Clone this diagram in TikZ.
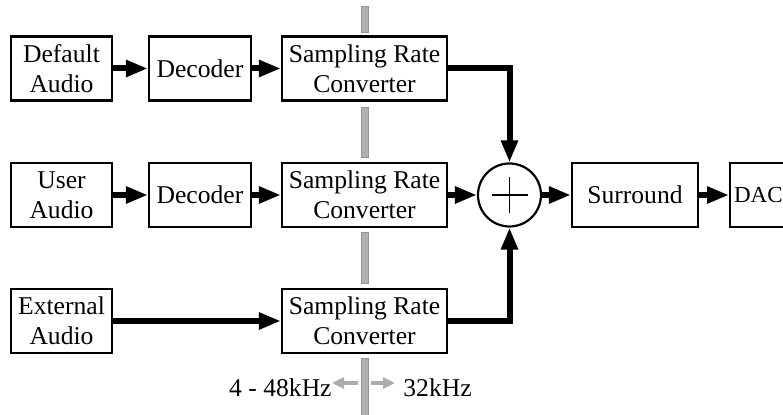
\documentclass[tikz,border=0pt]{standalone}
\usepackage{fontspec}
\setmainfont{Liberation Serif}
\usetikzlibrary{arrows.meta}
\begin{document}
\begin{tikzpicture}[x=0.5pt,y=-0.5pt,
  txt/.style={font=\fontsize{12.8}{15}\selectfont},
  block/.style={txt, draw, line width=1.1pt, minimum height=32pt, inner sep=0pt, align=center},
  srcbox/.style={block, minimum width=50.5pt},
  decbox/.style={block, minimum width=51pt},
  srcconv/.style={block, minimum width=82.5pt},
  flow/.style={line width=3pt, -{Triangle[length=11pt,width=8pt]}},
  band/.style={fill=gray!62, draw=gray!85, line width=0.4pt},
  rateflow/.style={gray!65, line width=1.8pt, -{Triangle[length=6pt,width=5.5pt]}}
]
\useasboundingbox (0,0) rectangle (783,415);

% clock-domain boundary (drawn first, behind the blocks)
\path[band] (361,6) rectangle (368,32);
\path[band] (361,107) rectangle (368,157);
\path[band] (361,232) rectangle (368,283);
\path[band] (361,358) rectangle (368,415);

% row 1
\node[srcbox]  (def)  at (61.5,68.5) {Default\\Audio};
\node[decbox]  (dec1) at (200,68.5)  {Decoder};
\node[srcconv] (src1) at (364.5,68.5) {Sampling Rate\\Converter};

% row 2
\node[srcbox]  (usr)  at (61.5,195) {User\\Audio};
\node[decbox]  (dec2) at (200,195)  {Decoder};
\node[srcconv] (src2) at (364.5,195) {Sampling Rate\\Converter};

% row 3
\node[srcbox]  (ext)  at (61.5,321) {External\\Audio};
\node[srcconv] (src3) at (364.5,321) {Sampling Rate\\Converter};

% mixer, surround and DAC
\node[draw, circle, line width=1.1pt, minimum size=31.5pt, inner sep=0pt] (sum) at (509.5,195) {};
\draw[line width=0.8pt] ([xshift=-9pt]sum.center) -- ([xshift=9pt]sum.center);
\draw[line width=0.8pt] ([yshift=-9pt]sum.center) -- ([yshift=9pt]sum.center);
\node[block, minimum width=63pt] (sur) at (635,195) {Surround};
\node[block, minimum width=60pt, text width=56pt, inner xsep=2pt, align=left, anchor=west,
      font=\fontsize{11.5}{14}\selectfont] (dac) at (729,195) {\raisebox{-2.5pt}{DAC}};

% signal flow
\draw[flow] (def) -- (dec1);
\draw[flow] (dec1) -- (src1);
\draw[flow] (usr) -- (dec2);
\draw[flow] (dec2) -- (src2);
\draw[flow] (ext) -- (src3);
\draw[flow] (src1.east) -| (sum.north);
\draw[flow] (src2) -- (sum);
\draw[flow] (src3.east) -| (sum.south);
\draw[flow] (sum) -- (sur);
\draw[flow] (sur) -- (dac);

% sample-rate labels
\node[txt, anchor=east, inner sep=0pt] (inrate) at (332,388) {4 - 48kHz};
\node[txt, anchor=west, inner sep=0pt] (outrate) at (403,388) {32kHz};
\coordinate (bandL) at (358,383);
\coordinate (bandR) at (371,383);
\draw[rateflow] (bandL) -- (inrate.east |- bandL);
\draw[rateflow] (bandR) -- ([xshift=-4pt]outrate.west |- bandR);
\end{tikzpicture}
\end{document}
